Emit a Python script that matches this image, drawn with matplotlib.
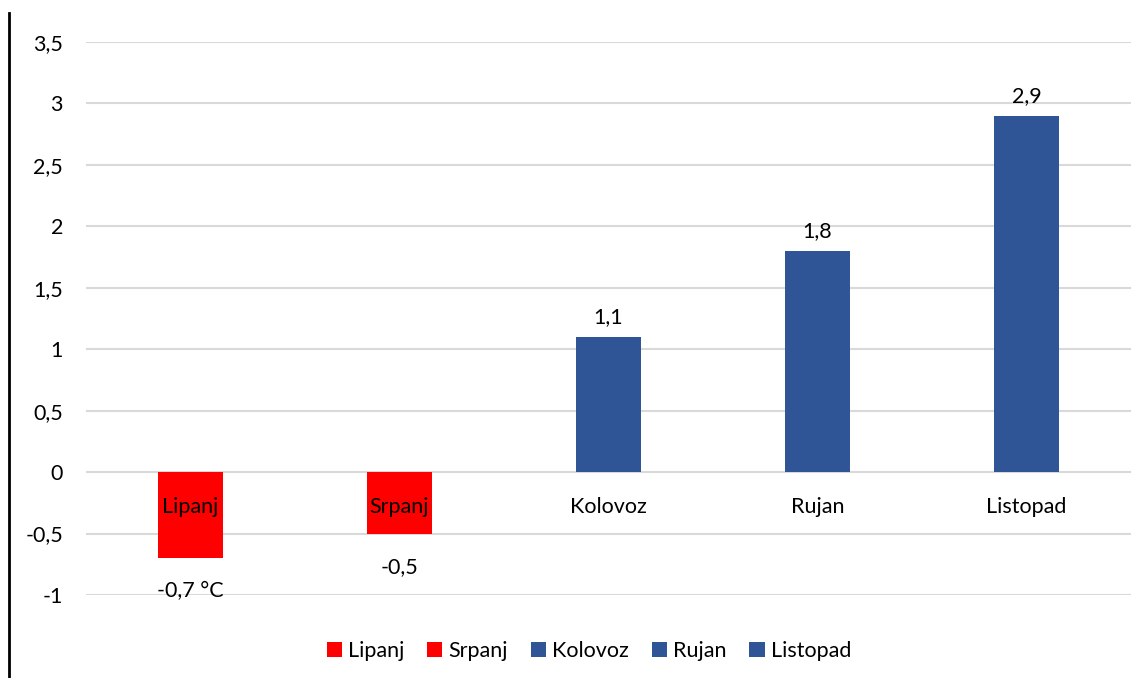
import matplotlib
matplotlib.use("Agg")
import matplotlib.pyplot as plt
from matplotlib.patches import Patch
from matplotlib.lines import Line2D

# Data
months = ["Lipanj", "Srpanj", "Kolovoz", "Rujan", "Listopad"]
values = [-0.7, -0.5, 1.1, 1.8, 2.9]
value_labels = ["-0,7 °C", "-0,5", "1,1", "1,8", "2,9"]
yticks = [-1, -0.5, 0, 0.5, 1, 1.5, 2, 2.5, 3, 3.5]
ytick_labels = ["-1", "-0,5", "0", "0,5", "1", "1,5", "2", "2,5", "3", "3,5"]

RED = "#ff0000"
BLUE = "#2f5597"
FS = 15.5

plt.rcParams["font.family"] = ["Lato", "DejaVu Sans"]

fig = plt.figure(figsize=(11.47, 6.78), dpi=100)
ax = fig.add_axes([86 / 1147, 1 - 595 / 678, (1131 - 86) / 1147, (595 - 42) / 678])

colors = [RED if v < 0 else BLUE for v in values]
x = list(range(len(months)))
ax.bar(x, values, width=0.315, color=colors, zorder=3)

ax.set_xlim(-0.5, len(months) - 0.5)
ax.set_ylim(-1, 3.5)
ax.set_yticks(yticks)
ax.set_yticklabels(ytick_labels, fontsize=FS)
ax.set_xticks([])
ax.tick_params(axis="y", length=0, pad=16.5)
ax.grid(axis="y", color="#d9d9d9", linewidth=1.5, zorder=0)
for s in ax.spines.values():
    s.set_visible(False)

# category names just below the zero line
for xi, m in zip(x, months):
    ax.text(xi, -0.285, m, ha="center", va="center", fontsize=FS, zorder=4)

# value labels
for xi, v, lab in zip(x, values, value_labels):
    if v >= 0:
        ax.text(xi, v + 0.08, lab, ha="center", va="bottom", fontsize=FS)
    else:
        ax.text(xi, v - 0.27, lab, ha="center", va="center", fontsize=FS)

handles = [Patch(facecolor=c, edgecolor="none") for c in colors]
fig.legend(handles, months, loc="center", bbox_to_anchor=(589 / 1147, 1 - 651 / 678),
           ncol=5, frameon=False, fontsize=FS, handlelength=0.7, handleheight=0.7,
           handletextpad=0.3, columnspacing=1.05)

# vertical line at the left edge
fig.add_artist(Line2D([9 / 1147, 9 / 1147], [0, 1 - 13 / 678], color="black",
                      linewidth=2, transform=fig.transFigure))

fig.savefig("out.png", dpi=100)
